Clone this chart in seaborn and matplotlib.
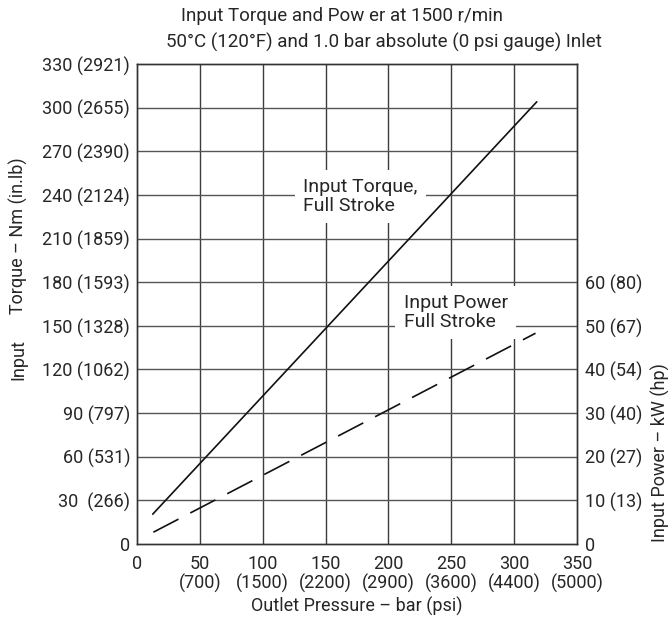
import matplotlib
matplotlib.use("Agg")
import matplotlib.pyplot as plt
import seaborn as sns

# === Data ===
pressure_ticks = [0, 50, 100, 150, 200, 250, 300, 350]
pressure_labels = ["0", "50\n(700)", "100\n(1500)", "150\n(2200)", "200\n(2900)",
                   "250\n(3600)", "300\n(4400)", "350\n(5000)"]

torque_ticks = [0, 30, 60, 90, 120, 150, 180, 210, 240, 270, 300, 330]
torque_labels = ["0", "30  (266)", "60 (531)", "90 (797)", "120 (1062)", "150 (1328)",
                 "180 (1593)", "210 (1859)", "240 (2124)", "270 (2390)",
                 "300 (2655)", "330 (2921)"]

power_ticks = [0, 10, 20, 30, 40, 50, 60]
power_labels = ["0", "10 (13)", "20 (27)", "30 (40)", "40 (54)", "50 (67)", "60 (80)"]

torque_x = [12.5, 318]
torque_nm = [20.5, 304]

power_x = [13, 317]
power_kw = [2.7, 48.3]

# === Style ===
sns.set_style("white")
plt.rcParams["font.family"] = ["Roboto", "DejaVu Sans"]
fs = 13

fig = plt.figure(figsize=(6.72, 6.17), dpi=100)
ax = fig.add_axes([137 / 672, 1 - 544 / 617, 440 / 672, 480 / 617])
ax2 = ax.twinx()

for v in pressure_ticks[1:-1]:
    ax.axvline(v, color="#3c3c3c", lw=1.0, zorder=0)
for v in torque_ticks[1:-1]:
    ax.axhline(v, color="#555555", lw=1.0, zorder=0)

sns.lineplot(x=torque_x, y=torque_nm, ax=ax, color="#111111", lw=1.2, zorder=5)
sns.lineplot(x=power_x, y=power_kw, ax=ax2, color="#111111", lw=1.2, zorder=5)
ax2.lines[-1].set_dashes((17, 8))

ax.set_xlim(0, 350)
ax.set_ylim(0, 330)
ax2.set_ylim(0, 110)

ax.set_xticks(pressure_ticks)
ax.set_xticklabels(pressure_labels, fontsize=fs, linespacing=1.05)
ax.set_yticks(torque_ticks)
ax.set_yticklabels(torque_labels, fontsize=fs)
ax2.set_yticks(power_ticks)
ax2.set_yticklabels(power_labels, fontsize=fs)
ax.tick_params(axis="x", length=0, pad=8)
ax.tick_params(axis="y", length=0, pad=5)
ax2.tick_params(length=0, pad=6)
# the zero labels sit just above the bottom axis line
ax2.get_yticklabels()[0].set_va("center_baseline")
ax.get_yticklabels()[0].set_va("center_baseline")

for a in (ax, ax2):
    for s in a.spines.values():
        s.set_color("#333333")
        s.set_linewidth(1.0)

ax.set_xlabel("Outlet Pressure \u2013 bar (psi)", fontsize=fs, labelpad=3)

# annotations on white boxes
box = dict(facecolor="white", edgecolor="none", pad=6)
ax.text(132, 239, "Input Torque,\nFull Stroke", fontsize=14, ha="left", va="center",
        bbox=box, zorder=4, linespacing=1.05)
ax.text(212, 159, "Input Power\nFull Stroke", fontsize=14, ha="left", va="center",
        bbox=box, zorder=4, linespacing=1.05)

# titles and side labels
fig.text(342 / 672, 1 - 16 / 617, "Input Torque and Pow er at 1500 r/min",
         fontsize=13.5, ha="center", va="center")
fig.text(384 / 672, 1 - 42 / 617, "50\u00b0C (120\u00b0F) and 1.0 bar absolute (0 psi gauge) Inlet",
         fontsize=13.5, ha="center", va="center")
fig.text(18 / 672, 1 - 236 / 617, "Torque \u2013 Nm (in.lb)", fontsize=fs,
         rotation=90, ha="center", va="center")
fig.text(18 / 672, 1 - 360 / 617, "Input", fontsize=fs,
         rotation=90, ha="center", va="center")
fig.text(660 / 672, 1 - 453 / 617, "Input Power \u2013 kW (hp)", fontsize=fs,
         rotation=90, ha="center", va="center")

fig.savefig("out.png", dpi=100)
